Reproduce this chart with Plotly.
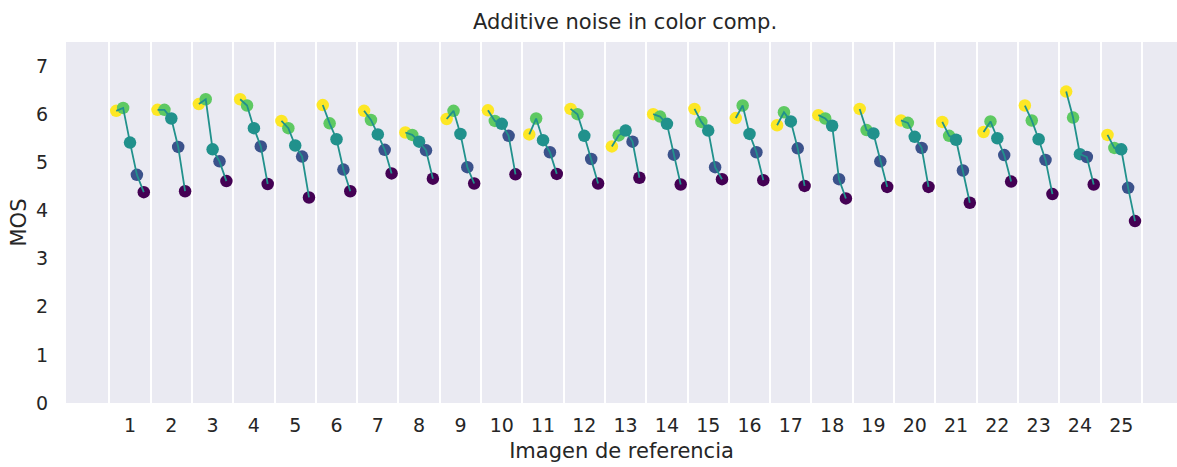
import plotly.graph_objects as go

# Reference images (x categories) and MOS per distortion level (1 = weakest)
images = list(range(1, 26))

level_1 = [6.07, 6.09, 6.21, 6.31, 5.86, 6.19, 6.07, 5.62, 5.90, 6.08, 5.58, 6.11, 5.33,
           6.00, 6.11, 5.92, 5.77, 5.98, 6.11, 5.87, 5.84, 5.63, 6.18, 6.47, 5.57]
level_2 = [6.13, 6.09, 6.31, 6.18, 5.71, 5.81, 5.88, 5.57, 6.07, 5.86, 5.91, 6.00, 5.56,
           5.95, 5.84, 6.18, 6.04, 5.91, 5.67, 5.82, 5.55, 5.85, 5.87, 5.93, 5.30]
level_3 = [5.41, 5.91, 5.27, 5.71, 5.35, 5.48, 5.58, 5.43, 5.59, 5.80, 5.46, 5.55, 5.66,
           5.80, 5.66, 5.59, 5.85, 5.76, 5.60, 5.53, 5.47, 5.50, 5.48, 5.17, 5.27]
level_4 = [4.74, 5.32, 5.02, 5.33, 5.12, 4.85, 5.26, 5.25, 4.90, 5.55, 5.21, 5.07, 5.43,
           5.16, 4.90, 5.21, 5.29, 4.65, 5.02, 5.30, 4.83, 5.15, 5.05, 5.11, 4.47]
level_5 = [4.38, 4.40, 4.61, 4.55, 4.27, 4.40, 4.77, 4.66, 4.56, 4.75, 4.76, 4.56, 4.68,
           4.54, 4.65, 4.63, 4.51, 4.25, 4.49, 4.49, 4.16, 4.60, 4.34, 4.54, 3.78]

levels = [level_1, level_2, level_3, level_4, level_5]
level_colors = ["#fde725", "#5ec962", "#21918c", "#3b528b", "#440154"]
line_color = "#21918c"

# Horizontal dodge of the five levels inside each reference image slot
step = 1 / 6


def dodge(img, k):
    return img + (k - 2) * step


fig = go.Figure()

# Markers, one trace per distortion level
for k, (vals, col) in enumerate(zip(levels, level_colors)):
    fig.add_trace(go.Scatter(
        x=[dodge(img, k) for img in images],
        y=vals,
        mode="markers",
        marker=dict(size=12.5, color=col, line=dict(width=0)),
        showlegend=False,
        hoverinfo="x+y",
    ))

# Connecting line per reference image, drawn above the markers
lx, ly = [], []
for i, img in enumerate(images):
    for k in range(5):
        lx.append(dodge(img, k))
        ly.append(levels[k][i])
    lx.append(None)
    ly.append(None)
fig.add_trace(go.Scatter(
    x=lx, y=ly, mode="lines",
    line=dict(color=line_color, width=1.8),
    showlegend=False, hoverinfo="skip",
))

text_color = "#262626"
font = "DejaVu Sans"

fig.update_layout(
    width=1177,
    height=467,
    margin=dict(l=66, r=0, t=42, b=64),
    paper_bgcolor="white",
    plot_bgcolor="#eaeaf2",
    font=dict(family=font, color=text_color, size=19),
    title=dict(
        text="Additive noise in color comp.",
        font=dict(family=font, size=21, color=text_color),
        x=625 / 1177, xref="container", xanchor="center",
        y=1 - 22 / 467, yref="container", yanchor="middle",
    ),
    xaxis=dict(
        range=[-0.55, 26.35],
        tickmode="array",
        tickvals=images,
        ticktext=[str(i) for i in images],
        showgrid=False,
        zeroline=False,
        showline=False,
        ticks="",
        ticklabelstandoff=9,
        tickfont=dict(family=font, size=19, color=text_color),
        title=dict(text="Imagen de referencia",
                   font=dict(family=font, size=21, color=text_color),
                   standoff=8),
        minor=dict(
            tickmode="array",
            tickvals=[i + 0.5 for i in range(0, 26)],
            showgrid=True,
            gridcolor="white",
            gridwidth=2,
            ticks="",
        ),
    ),
    yaxis=dict(
        range=[0, 7.5],
        tickmode="array",
        tickvals=list(range(0, 8)),
        showgrid=False,
        zeroline=False,
        showline=False,
        ticks="",
        ticklabelstandoff=17,
        tickfont=dict(family=font, size=19, color=text_color),
        title=dict(text="MOS",
                   font=dict(family=font, size=21, color=text_color),
                   standoff=3),
    ),
)

fig.write_html("out.html")
